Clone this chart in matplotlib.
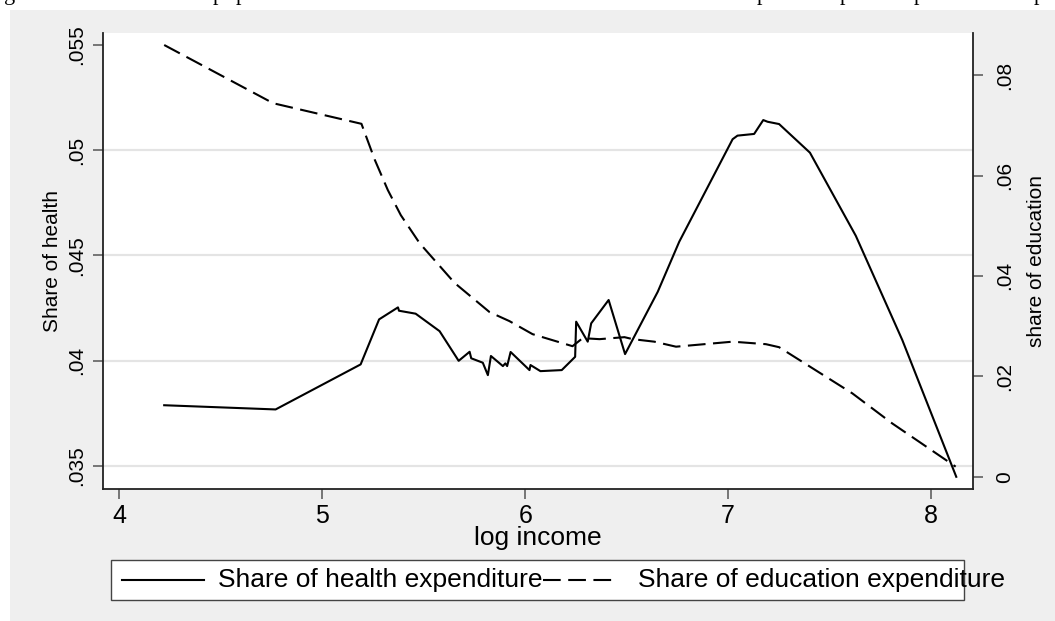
import matplotlib
matplotlib.use("Agg")
import matplotlib.pyplot as plt
from matplotlib.patches import Rectangle
from matplotlib.lines import Line2D

plt.rcParams["font.family"] = ["Liberation Sans", "DejaVu Sans"]

# health share series (left axis)
log_income_health = [4.221, 4.770, 5.189, 5.280, 5.365, 5.373, 5.378, 5.460, 5.578,
                     5.672, 5.726, 5.734, 5.791, 5.816, 5.831, 5.890, 5.902, 5.911,
                     5.928, 6.021, 6.026, 6.075, 6.180, 6.246, 6.251, 6.308, 6.325,
                     6.411, 6.492, 6.653, 6.759, 7.022, 7.046, 7.128, 7.173, 7.194,
                     7.251, 7.403, 7.629, 7.858, 8.124]
share_health = [0.03788, 0.03768, 0.03982, 0.04196, 0.04248, 0.04253, 0.04237, 0.04223,
                0.04140, 0.03999, 0.04042, 0.04011, 0.03990, 0.03931, 0.04022, 0.03974,
                0.03987, 0.03974, 0.04041, 0.03955, 0.03979, 0.03950, 0.03955, 0.04018,
                0.04185, 0.04090, 0.04177, 0.04288, 0.04031, 0.04327, 0.04565, 0.05052,
                0.05069, 0.05077, 0.05143, 0.05135, 0.05124, 0.04988, 0.04593, 0.04098,
                0.03448]

# education share series (right axis)
log_income_edu = [4.221, 4.758, 5.193, 5.259, 5.323, 5.387, 5.480, 5.652, 5.824, 5.922,
                  6.036, 6.233, 6.283, 6.366, 6.489, 6.530, 6.636, 6.743, 7.022, 7.186,
                  7.251, 7.612, 7.809, 8.121]
share_education = [0.0860, 0.0744, 0.0703, 0.0631, 0.0571, 0.0521, 0.0465, 0.0386,
                   0.0328, 0.0310, 0.0284, 0.0260, 0.0276, 0.0274, 0.0278, 0.0274,
                   0.0269, 0.0259, 0.0269, 0.0264, 0.0258, 0.0166, 0.0106, 0.0020]

x_ticks = [4, 5, 6, 7, 8]
health_ticks = [0.035, 0.04, 0.045, 0.05, 0.055]
health_tick_labels = [".035", ".04", ".045", ".05", ".055"]
edu_ticks = [0, 0.02, 0.04, 0.06, 0.08]
edu_tick_labels = ["0", ".02", ".04", ".06", ".08"]
series_labels = ["Share of health expenditure", "Share of education expenditure"]

W, H = 1055, 621
BG = "#efefef"
AXIS_COLOR = "#222222"
TICK_COLOR = "#555555"
SOLID = "-"
DASHED = (0, (8.5, 3.6))


def main():

    fig = plt.figure(figsize=(W / 100, H / 100), dpi=100)
    fig.patch.set_facecolor("white")

    # grey graph region (white strip left and top from the page crop)
    fig.add_artist(Rectangle((10 / W, 0), 1 - 10 / W, 1 - 10 / H,
                             transform=fig.transFigure, facecolor=BG,
                             edgecolor="none", zorder=-10))

    # descenders of the cropped text line above the figure
    for xp, ch in [(4, "g"), (213, "p"), (236, "p"), (757, "p"),
                   (840, "p"), (914, "p"), (1034, "p")]:
        fig.text(xp / W, 1.0, ch, va="baseline", fontsize=16,
                 family="Liberation Serif", color="black")

    # =========================================================
    # Axes
    # =========================================================
    left, right = 102.7 / W, 972.7 / W
    bottom, top = 1 - 489 / H, 1 - 32.5 / H
    ax = fig.add_axes([left, bottom, right - left, top - bottom])
    ax.set_facecolor("white")
    ax2 = ax.twinx()

    ax.set_xlim(3.918, 8.205)
    ax.set_ylim(0.0339, 0.05559)
    ax2.set_ylim(-0.00245, 0.08849)

    for v in health_ticks[:-1]:
        ax.axhline(v, color="#e4e4e4", lw=1.6, zorder=0.5)

    ax.plot(log_income_health, share_health, color="black",
            lw=1.5, linestyle=SOLID, zorder=3)
    ax2.plot(log_income_edu, share_education, color="black",
             lw=1.5, linestyle=DASHED, zorder=3)

    ax.spines["top"].set_visible(False)
    ax.spines["right"].set_visible(False)
    ax2.spines["top"].set_visible(False)
    ax2.spines["left"].set_visible(False)
    ax2.spines["bottom"].set_visible(False)
    for sp in [ax.spines["left"], ax.spines["bottom"], ax2.spines["right"]]:
        sp.set_color(AXIS_COLOR)
        sp.set_linewidth(1.3)

    ax.set_xticks(x_ticks, labels=[str(t) for t in x_ticks])
    ax.tick_params(axis="x", length=7, width=1.1, color=TICK_COLOR,
                   labelsize=18, pad=4)

    ax.set_yticks(health_ticks, labels=health_tick_labels,
                  rotation=90, va="center")
    ax.tick_params(axis="y", length=7, width=1.1, color=TICK_COLOR,
                   labelsize=15, pad=4.8)

    ax2.set_yticks(edu_ticks, labels=edu_tick_labels,
                   rotation=90, va="center")
    ax2.tick_params(axis="y", length=7, width=1.1, color=TICK_COLOR,
                    labelsize=15, pad=9)

    ax.set_xlabel("log income", fontsize=19, va="center")
    ax.xaxis.set_label_coords(0.5, (489 - 538) / 456.5)

    ax.set_ylabel("Share of health", fontsize=15, va="center")
    ax.yaxis.set_label_coords((52 - 102.7) / 870, 0.5)

    ax2.set_ylabel("share of education", fontsize=15, va="center")
    ax2.yaxis.set_label_coords((1036 - 102.7) / 870, 0.5)

    # =========================================================
    # Legend (box drawn by hand, text runs past its edge)
    # =========================================================
    fig.add_artist(Rectangle((111 / W, 1 - 600 / H), (964 - 111) / W, 40 / H,
                             transform=fig.transFigure, facecolor="white",
                             edgecolor="#444444", lw=1.0, zorder=1))
    ly = 1 - 580 / H
    for style, (x0, x1), tx, label in zip(
            [SOLID, DASHED], [(122, 204), (543, 618)], [218, 638], series_labels):
        fig.add_artist(Line2D([x0 / W, x1 / W], [ly, ly],
                              transform=fig.transFigure, color="black",
                              lw=1.5, linestyle=style, zorder=2))
        fig.text(tx / W, ly, label, fontsize=19, va="center", zorder=3)

    fig.savefig("out.png", dpi=100)
    plt.close(fig)


if __name__ == "__main__":
    main()
